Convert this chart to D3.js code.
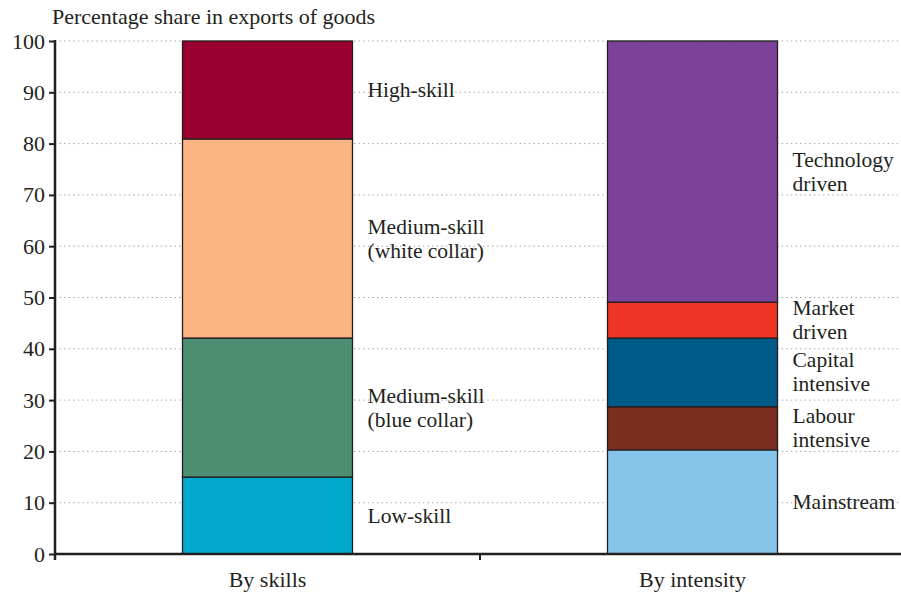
<!DOCTYPE html>
<html><head><meta charset="utf-8">
<script src="https://cdn.jsdelivr.net/npm/d3@7"></script>
<style>body{margin:0;background:#fff}svg{display:block}text{font-family:"Liberation Serif","DejaVu Serif",serif;fill:#231f20}</style>
</head><body><svg id="c" width="901" height="596"></svg>
<script>
const categories = ["By skills", "By intensity"];
const skillLabels = [["Low-skill"], ["Medium-skill", "(blue collar)"], ["Medium-skill", "(white collar)"], ["High-skill"]];
const skillValues = [15, 27.1, 38.8, 19.1];
const skillColors = ["#00a8cb", "#4e8f73", "#fbb482", "#990030"];
const intensityLabels = [["Mainstream"], ["Labour", "intensive"], ["Capital", "intensive"], ["Market", "driven"], ["Technology", "driven"]];
const intensityValues = [20.3, 8.4, 13.4, 7.0, 50.9];
const intensityColors = ["#86c4ea", "#7b2d20", "#005a87", "#ee3524", "#7c4199"];
const yTicks = [0, 10, 20, 30, 40, 50, 60, 70, 80, 90, 100];
const yTitle = "Percentage share in exports of goods";

(function () {
const svg = d3.select("#c");
const mLeft = 55, mRight = 905, mTop = 41, mBottom = 554;
const fs = 22, lfs = 21.5;
const x = d3.scaleBand().domain(categories).range([mLeft, mRight]).paddingInner(0).paddingOuter(0);
const y = d3.scaleLinear().domain([0, 100]).range([mBottom, mTop]);
const barW = x.bandwidth() * 0.4;

// grid
svg.append("g").selectAll("line").data(yTicks.filter(d => d > 0)).join("line")
  .attr("x1", mLeft).attr("x2", 901).attr("y1", d => y(d)).attr("y2", d => y(d))
  .attr("stroke", "#9a9a9a").attr("stroke-width", 1).attr("stroke-dasharray", "1.3,3.3");

function stack(values, labels, colors, cat) {
  let cum = 0;
  const segs = values.map((v, i) => { const s = {y0: cum, y1: cum + v, label: labels[i], color: colors[i]}; cum += v; return s; });
  const cx = x(cat) + x.bandwidth() / 2;
  const g = svg.append("g");
  g.selectAll("rect").data(segs).join("rect")
    .attr("x", cx - barW / 2).attr("width", barW)
    .attr("y", d => y(d.y1)).attr("height", d => y(d.y0) - y(d.y1))
    .attr("fill", d => d.color).attr("stroke", "#231f20").attr("stroke-width", 1.3);
  const lx = cx + barW / 2 + 15;
  segs.forEach(s => {
    const mid = y((s.y0 + s.y1) / 2);
    const n = s.label.length;
    s.label.forEach((line, j) => {
      g.append("text").attr("x", lx).attr("font-size", lfs)
        .attr("y", mid + 7 + (j - (n - 1) / 2) * 24).text(line);
    });
  });
}
stack(skillValues, skillLabels, skillColors, categories[0]);
stack(intensityValues, intensityLabels, intensityColors, categories[1]);

// y axis
const ya = svg.append("g").attr("transform", `translate(${mLeft},0)`)
  .call(d3.axisLeft(y).tickValues(yTicks).tickSize(6).tickPadding(4));
ya.select(".domain").remove();
ya.selectAll(".tick line").attr("stroke", "#231f20").attr("stroke-width", 2);
ya.selectAll(".tick text").attr("font-size", fs).attr("font-family", "Liberation Serif").attr("fill", "#231f20").attr("dy", "0.32em");
svg.append("line").attr("x1", mLeft).attr("x2", mLeft).attr("y1", mTop - 1).attr("y2", mBottom + 6)
  .attr("stroke", "#231f20").attr("stroke-width", 2.5);

// x axis
svg.append("line").attr("x1", mLeft).attr("x2", 901).attr("y1", mBottom).attr("y2", mBottom)
  .attr("stroke", "#231f20").attr("stroke-width", 2.5);
svg.append("line").attr("x1", x(categories[1])).attr("x2", x(categories[1])).attr("y1", mBottom).attr("y2", mBottom + 6)
  .attr("stroke", "#231f20").attr("stroke-width", 2);
svg.append("g").selectAll("text").data(categories).join("text")
  .attr("x", d => x(d) + x.bandwidth() / 2).attr("y", 587).attr("text-anchor", "middle")
  .attr("font-size", fs).text(d => d);

svg.append("text").attr("x", 52).attr("y", 24).attr("font-size", fs).text(yTitle);
})();
</script></body></html>
